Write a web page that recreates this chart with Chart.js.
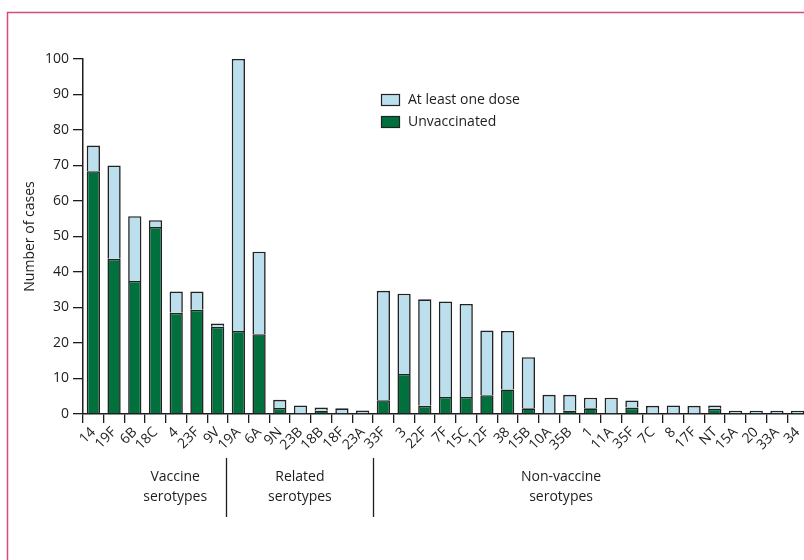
<!DOCTYPE html>
<html>
<head>
<meta charset="utf-8">
<script src="https://cdn.jsdelivr.net/npm/chart.js@4/dist/chart.umd.min.js"></script>
<style>
  html, body { margin: 0; padding: 0; background: #fff; overflow: hidden; }
  #wrap { width: 830px; height: 560px; }
</style>
</head>
<body>
<div id="wrap"><canvas id="c" width="830" height="560"></canvas></div>
<script>
// Serotypes, in plotting order
const serotypes = ['14', '19F', '6B', '18C', '4', '23F', '9V', '19A', '6A',
  '9N', '23B', '18B', '18F', '23A',
  '33F', '3', '22F', '7F', '15C', '12F', '38', '15B', '10A', '35B', '1', '11A',
  '35F', '7C', '8', '17F', 'NT', '15A', '20', '33A', '34'];

// Cases by vaccination status (stacked)
const unvaccinated = [68.4, 43.7, 37.5, 52.7, 28.5, 29.4, 24.6, 23.4, 22.5,
  1.7, 0, 0.9, 0, 0,
  3.9, 11.3, 2.3, 4.8, 4.8, 5.3, 6.9, 1.6, 0, 0.9, 1.6, 0,
  1.8, 0, 0, 0, 1.5, 0, 0, 0, 0];
const atLeastOneDose = [7.2, 26.3, 18.2, 1.9, 6.0, 5.1, 0.9, 76.6, 23.2,
  2.3, 2.4, 0.9, 1.6, 1.0,
  30.8, 22.6, 30.0, 26.9, 26.2, 18.2, 16.5, 14.4, 5.4, 4.5, 3.0, 4.6,
  2.0, 2.3, 2.4, 2.3, 0.9, 0.9, 0.9, 0.9, 0.9];

const seriesNames = ['Unvaccinated', 'At least one dose'];
const yTicks = [0, 10, 20, 30, 40, 50, 60, 70, 80, 90, 100];
const yTitle = 'Number of cases';

// Serotype groups shown under the axis
const groupNames = [['Vaccine', 'serotypes'], ['Related', 'serotypes'], ['Non-vaccine', 'serotypes']];
const groupLabelAt = [4.45, 10.47, 23.08];   // in category widths from the axis start
const groupDividerAt = [6.9, 14.0];

const FONT = '"Open Sans", "DejaVu Sans", sans-serif';
const INK = '#1d1d1d';
const GREEN = '#00703c';
const BLUE = '#bcdfee';
const EDGE = '#222222';

const frame = {
  id: 'frame',
  beforeDraw(chart) {
    const ctx = chart.ctx;
    ctx.save();
    ctx.strokeStyle = '#d64a7c';
    ctx.lineWidth = 1.5;
    ctx.strokeRect(7.5, 12.5, 900, 700);
    ctx.restore();
  }
};

const extras = {
  id: 'extras',
  afterDraw(chart) {
    const ctx = chart.ctx;
    const xs = chart.scales.x;
    const cw = xs.width / serotypes.length;
    ctx.save();
    // group dividers
    ctx.strokeStyle = INK;
    ctx.lineWidth = 1.3;
    groupDividerAt.forEach(f => {
      const x = Math.round(xs.left + f * cw) + 0.5;
      ctx.beginPath();
      ctx.moveTo(x, 458);
      ctx.lineTo(x, 517);
      ctx.stroke();
    });
    // group captions
    ctx.fillStyle = INK;
    ctx.font = '14px ' + FONT;
    ctx.textAlign = 'center';
    ctx.textBaseline = 'alphabetic';
    groupNames.forEach((lines, i) => {
      const x = xs.left + groupLabelAt[i] * cw;
      lines.forEach((t, j) => ctx.fillText(t, x, 481 + j * 20));
    });
    // legend (top entry first)
    const items = chart.data.datasets.slice().reverse();
    const lx = 381, ly = 94;
    ctx.textAlign = 'left';
    ctx.textBaseline = 'middle';
    items.forEach((ds, i) => {
      const y = ly + i * 22;
      ctx.fillStyle = ds.backgroundColor;
      ctx.fillRect(lx, y, 19, 12);
      ctx.strokeStyle = EDGE;
      ctx.lineWidth = 1.2;
      ctx.strokeRect(lx + 0.5, y + 0.5, 18, 11);
      ctx.fillStyle = INK;
      ctx.fillText(ds.label, 408, y + 6.5);
    });
    ctx.restore();
  }
};

new Chart(document.getElementById('c'), {
  type: 'bar',
  data: {
    labels: serotypes,
    datasets: [
      { label: seriesNames[0], data: unvaccinated, backgroundColor: GREEN,
        borderColor: EDGE, borderWidth: 1.6, borderSkipped: 'start' },
      { label: seriesNames[1], data: atLeastOneDose, backgroundColor: BLUE,
        borderColor: EDGE, borderWidth: 1.6, borderSkipped: 'start' }
    ]
  },
  options: {
    responsive: false,
    animation: false,
    devicePixelRatio: 1,
    layout: { padding: { left: 0, top: 59, right: 22, bottom: 0 } },
    datasets: { bar: { barPercentage: 0.64, categoryPercentage: 1 } },
    plugins: { legend: { display: false }, tooltip: { enabled: false } },
    scales: {
      x: {
        stacked: true,
        afterFit(s) { s.height = 146; },
        grid: { display: true, drawOnChartArea: false, offset: true, color: INK, tickLength: 9, lineWidth: 1.3 },
        border: { display: true, color: INK, width: 1.5 },
        ticks: { autoSkip: false, minRotation: 45, maxRotation: 45, padding: 1,
          color: INK, font: { family: FONT, size: 14 } }
      },
      y: {
        stacked: true,
        min: 0, max: 100,
        afterFit(s) { s.width = 83; },
        afterBuildTicks(s) { s.ticks = yTicks.map(v => ({ value: v })); },
        grid: { display: true, drawOnChartArea: false, color: INK, tickLength: 10, lineWidth: 1.3 },
        border: { display: true, color: INK, width: 1.5 },
        ticks: { padding: 4, color: INK, font: { family: FONT, size: 14 } },
        title: { display: true, text: yTitle, color: INK, padding: { top: 22, bottom: 0 },
          font: { family: FONT, size: 14 } }
      }
    }
  },
  plugins: [frame, extras]
});
</script>
</body>
</html>
